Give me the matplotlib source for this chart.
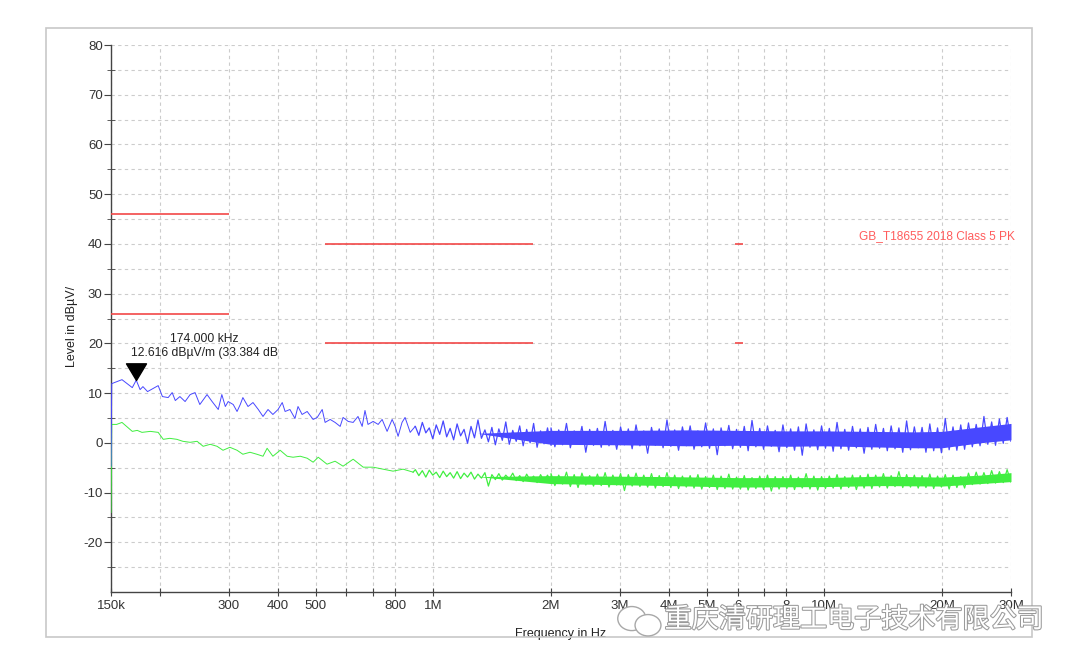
import matplotlib
matplotlib.use("Agg")
import matplotlib.pyplot as plt
import matplotlib.patheffects as pe
import numpy as np
from matplotlib.patches import Rectangle, Ellipse

plt.rcParams['font.family'] = ['Liberation Sans', 'DejaVu Sans']
plt.rcParams['axes.unicode_minus'] = False

# x axis (MHz)
tick_mhz = [0.15, 0.2, 0.3, 0.4, 0.5, 0.6, 0.7, 0.8, 1, 2, 3, 4, 5, 6, 7, 8, 10, 20, 30]
tick_labels = ['150k', '', '300', '400', '500', '', '', '800', '1M', '2M', '3M', '4M', '5M',
               '6', '', '8', '10M', '20M', '30M']

# limit lines GB/T 18655-2018 class 5
limit_start = [0.15, 0.15, 0.53, 0.53, 5.9, 5.9]
limit_stop = [0.30, 0.30, 1.8, 1.8, 6.2, 6.2]
limit_level = [46, 26, 40, 20, 40, 20]

# blue trace (peak), 150 kHz .. 0.9 MHz read point by point
blue_khz = [150.0, 150.6, 160, 170, 174, 178, 181, 186, 198, 203, 210, 215, 219, 225, 232, 239,
            246, 253, 264, 272, 282, 288, 294, 299, 308, 315, 321, 326, 336, 346, 357, 367,
            378, 389, 401, 411, 418, 430, 443, 451, 462, 476, 493, 505, 520, 529, 545, 561,
            578, 588, 606, 624, 642, 658, 669, 681, 702, 723, 740, 762, 785, 799, 813, 832,
            847, 873, 899]
blue_db = [-4.7, 11.9, 12.7, 11.1, 12.6, 10.7, 11.3, 10.3, 11.5, 9.3, 9.1, 10.1, 8.5, 9.3, 8.3, 9.7,
           10.1, 7.7, 9.7, 8.3, 6.7, 9.7, 7.3, 8.3, 7.7, 6.3, 7.7, 9.1, 7.3, 8.1, 6.7, 5.3,
           6.7, 5.7, 6.7, 8.1, 6.3, 6.7, 4.9, 7.3, 5.7, 6.3, 4.7, 5.1, 6.7, 4.1, 4.7, 4.1,
           3.3, 5.1, 4.3, 4.1, 5.3, 3.3, 6.5, 3.7, 4.3, 3.7, 4.7, 2.3, 4.7, 3.3, 1.3, 4.1,
           5.1, 2.1, 3.3]

# green trace (average), 150 kHz .. 0.9 MHz
green_khz = [150.0, 150.6, 155, 160, 170, 175, 180, 189, 198, 204, 212, 221, 229, 239, 249, 258,
             269, 280, 290, 302, 315, 326, 340, 354, 367, 376, 389, 406, 423, 438, 457, 476,
             493, 508, 535, 561, 588, 624, 662, 702, 744, 789, 837, 888]
green_db = [-14.0, 3.7, 3.7, 4.1, 2.3, 2.5, 2.1, 2.3, 2.1, 0.7, 0.9, 0.7, 0.3, 0.1, 0.3, -0.7,
            -0.3, -0.7, -1.5, -0.9, -1.5, -2.3, -1.9, -2.3, -2.7, -1.1, -2.7, -1.5, -2.7, -2.9, -2.7, -3.1,
            -3.9, -2.9, -4.3, -3.7, -4.7, -3.3, -4.9, -4.9, -5.3, -5.7, -5.3, -5.9]

# 0.9 MHz .. 2 MHz, sweep points get denser
blue_mid = [3.3, 1.5, 4.1, 2.0, 3.0, 0.8, 3.6, 1.7, 4.4, 1.2,
            2.9, 0.6, 3.8, 1.4, 2.7, -0.1, 3.3, 1.0, 4.6, 0.9,
            2.6, 0.2, 3.1, -0.4, 2.8, 0.5, 4.2, -0.3, 2.5, 0.3,
            3.4, -0.6, 2.7, 0.0, 3.9, -0.9, 2.4, -0.2, 3.0, -0.5]
green_mid = [-5.4, -6.6, -5.6, -6.9, -5.5, -6.5, -5.9, -7.0, -5.7, -6.8,
             -6.0, -7.1, -5.8, -7.2, -6.1, -6.9, -5.9, -7.3, -6.3, -7.1,
             -6.0, -8.7, -6.4, -7.4, -6.2, -7.5, -6.5, -7.3, -6.1, -7.6,
             -6.6, -7.8, -6.3, -7.5, -6.7, -8.0, -6.4, -7.7, -6.5, -8.1]

# dense part of the sweep, 2 MHz .. 30 MHz
blue_zz = [3.0, -0.8, 2.6, -0.4, 3.9, -1.0, 2.4, -0.3, 3.3, -1.9, 2.7, -0.5,
           2.9, -0.9, 4.3, -0.6, 2.5, -1.3, 3.2, -0.4, 2.8, -1.2, 3.6, -0.6,
           2.4, -2.1, 3.1, -0.5, 2.8, -1.0, 4.6, -0.7, 2.6, -1.5, 3.2, -0.6,
           3.4, -1.3, 2.4, -0.8, 4.0, -1.1, 2.8, -2.4, 3.0, -0.6, 3.5, -1.2,
           2.7, -0.9, 3.3, -1.6, 4.5, -0.8, 2.9, -1.3, 3.4, -0.7, 2.5, -1.8,
           3.6, -1.0, 2.8, -1.5, 3.2, -2.5, 3.8, -0.9, 2.6, -1.4, 3.4, -1.1,
           2.9, -1.7, 4.1, -1.2, 2.7, -1.5, 3.3, -1.0, 2.8, -2.1, 3.1, -1.3,
           3.7, -1.1, 2.9, -1.6, 3.4, -1.2, 3.0, -1.9, 4.4, -1.4, 3.2, -1.0,
           3.1, -1.9, 3.8, -1.6, 3.0, -2.0, 4.9, -1.4, 3.2, -1.5, 3.6, -1.3,
           4.0, -0.8, 3.7, -0.6, 5.3, -0.3, 4.2, -0.5, 4.8, -0.1, 5.1, 0.3]
green_zz = [-6.2, -8.6, -6.5, -8.3, -5.9, -8.8, -6.4, -9.0, -6.1, -8.5, -6.6, -8.7,
            -6.3, -8.6, -6.0, -8.9, -6.5, -8.5, -6.2, -9.6, -6.4, -8.7, -6.1, -8.8,
            -6.5, -8.9, -6.2, -9.1, -6.6, -8.8, -6.0, -9.0, -6.5, -9.2, -6.7, -8.9,
            -6.6, -9.1, -6.4, -9.3, -6.8, -9.0, -6.5, -9.4, -6.7, -9.2, -6.3, -9.3,
            -6.9, -9.3, -6.6, -9.5, -7.0, -9.2, -6.7, -9.4, -6.5, -9.7, -6.8, -9.3,
            -6.8, -9.2, -6.5, -9.4, -6.9, -9.1, -6.2, -9.3, -6.7, -9.5, -6.8, -9.2,
            -6.7, -9.1, -6.4, -9.3, -6.8, -9.0, -6.5, -9.4, -6.6, -9.1, -6.3, -9.2,
            -6.5, -8.9, -6.2, -9.1, -6.6, -8.8, -5.8, -9.0, -6.4, -8.9, -6.5, -9.1,
            -6.6, -9.0, -6.3, -9.2, -6.7, -8.9, -6.4, -9.3, -6.5, -9.0, -6.8, -9.1,
            -6.1, -8.4, -5.9, -8.3, -6.0, -8.2, -5.6, -8.1, -5.8, -8.0, -5.4, -7.9]

# solid core of the noise bands
blue_core_mhz = [1.3, 2, 3, 4.5, 6, 8, 10, 13, 17, 20, 25, 30]
blue_core_hi = [1.9, 2.5, 2.5, 2.6, 2.5, 2.4, 2.4, 2.3, 2.2, 2.3, 3.2, 3.9]
blue_core_lo = [1.9, -0.3, -0.4, -0.6, -0.5, -0.7, -0.6, -0.8, -1.0, -1.0, 0.0, 0.6]
green_core_mhz = [1.3, 2, 4, 6, 10, 14, 20, 25, 30]
green_core_hi = [-6.8, -6.6, -6.8, -7.0, -7.0, -6.7, -6.9, -6.5, -6.0]
green_core_lo = [-6.8, -8.2, -8.6, -8.9, -8.8, -8.6, -8.7, -8.2, -7.8]

marker_mhz = 0.174
marker_db = 12.616

BLUE = '#4848ff'
GREEN = '#40ee40'
RED = '#f24848'

fig = plt.figure(figsize=(10.8, 6.68), dpi=100)
ax = fig.add_axes([0.1028, 0.1138, 0.8333, 0.8188])

ax.set_xscale('log')
ax.set_xlim(0.15, 30)
ax.set_ylim(-30, 80)

# grid
ax.set_yticks(np.arange(-20, 81, 10))
ax.set_yticks(np.arange(-25, 81, 5), minor=True)
ax.set_xticks(tick_mhz)
ax.set_xticklabels(tick_labels)
ax.xaxis.set_minor_locator(matplotlib.ticker.NullLocator())
ax.grid(True, which='both', axis='y', color='#cccccc', linestyle=(0, (3, 3)), linewidth=0.8)
ax.grid(True, which='major', axis='x', color='#cccccc', linestyle=(0, (3, 3)), linewidth=0.8)
ax.set_axisbelow(True)

for s in ['top', 'right']:
    ax.spines[s].set_visible(False)
for s in ['left', 'bottom']:
    ax.spines[s].set_color('#444444')
    ax.spines[s].set_linewidth(1.0)

ax.tick_params(axis='y', which='major', direction='out', length=5, color='#444444',
               labelsize=9.5, labelcolor='#333333', pad=1)
ax.tick_params(axis='y', which='minor', direction='inout', length=6, color='#444444')
ax.tick_params(axis='x', which='major', direction='inout', length=6, color='#444444',
               labelsize=9.5, labelcolor='#333333', pad=3)

# limits
ax.hlines(limit_level, limit_start, limit_stop, colors=RED, linewidth=1.2, zorder=3)

mid_mhz = np.geomspace(0.9, 2.0, len(blue_mid))
zz_mhz = np.geomspace(2.0, 30.0, len(blue_zz))

# green trace
ax.plot(np.array(green_khz) / 1000, green_db, color=GREEN, linewidth=0.7, zorder=4)
ax.plot(np.r_[green_khz[-1] / 1000, mid_mhz, zz_mhz],
        np.r_[green_db[-1], green_mid, green_zz], color=GREEN, linewidth=0.9, zorder=4)
ax.fill_between(green_core_mhz, green_core_lo, green_core_hi, color=GREEN, linewidth=0, zorder=4)

# blue trace
ax.plot(np.array(blue_khz) / 1000, blue_db, color=BLUE, linewidth=0.7, zorder=5)
ax.plot(np.r_[blue_khz[-1] / 1000, mid_mhz, zz_mhz],
        np.r_[blue_db[-1], blue_mid, blue_zz], color=BLUE, linewidth=0.9, zorder=5)
ax.fill_between(blue_core_mhz, blue_core_lo, blue_core_hi, color=BLUE, linewidth=0, zorder=5)

# marker
tri = [(0, 0), (-0.6, 1), (0.6, 1), (0, 0)]
ax.plot([marker_mhz], [marker_db], marker=tri, markersize=24, color='black',
        linestyle='none', zorder=6, clip_on=False)
ax.annotate('%.3f kHz\n%.3f dB\u00b5V/m (33.384 dB' % (marker_mhz * 1000, marker_db),
            xy=(marker_mhz, marker_db), xytext=(49, 15), textcoords='offset points',
            ha='center', va='bottom', fontsize=8.7, color='#222222', linespacing=1.2, zorder=6)

ax.text(30.7, 41.6, 'GB_T18655 2018 Class 5 PK', color='#ff5c5c', fontsize=8.6,
        ha='right', va='center', clip_on=False)

ax.set_ylabel('Level in dB\u00b5V/', fontsize=9, color='#222222')
ax.yaxis.set_label_coords(-0.037, 0.486)
ax.set_xlabel('Frequency in Hz', fontsize=9, color='#222222', labelpad=11)

# outer frame
fig.patches.append(Rectangle((0.0426, 0.0464), 0.913, 0.9117, transform=fig.transFigure,
                             fill=False, edgecolor='#c8c8c8', linewidth=1.2))

# watermark
fig.text(0.967, 0.072, '重庆清研理工电子技术有限公司', fontsize=19.5,
         family=['Noto Sans CJK SC', 'DejaVu Sans'], color='white', ha='right', va='center',
         path_effects=[pe.withStroke(linewidth=1.5, foreground='#9a9a9a')], zorder=10)
fig.patches.append(Ellipse((0.585, 0.074), 0.026, 0.036, transform=fig.transFigure,
                           fill=True, facecolor='white', edgecolor='#a8a8a8', linewidth=1.0, zorder=10))
fig.patches.append(Ellipse((0.600, 0.064), 0.024, 0.032, transform=fig.transFigure,
                           fill=True, facecolor='white', edgecolor='#a8a8a8', linewidth=1.0, zorder=10))

fig.savefig('out.png', dpi=100, facecolor='white')
